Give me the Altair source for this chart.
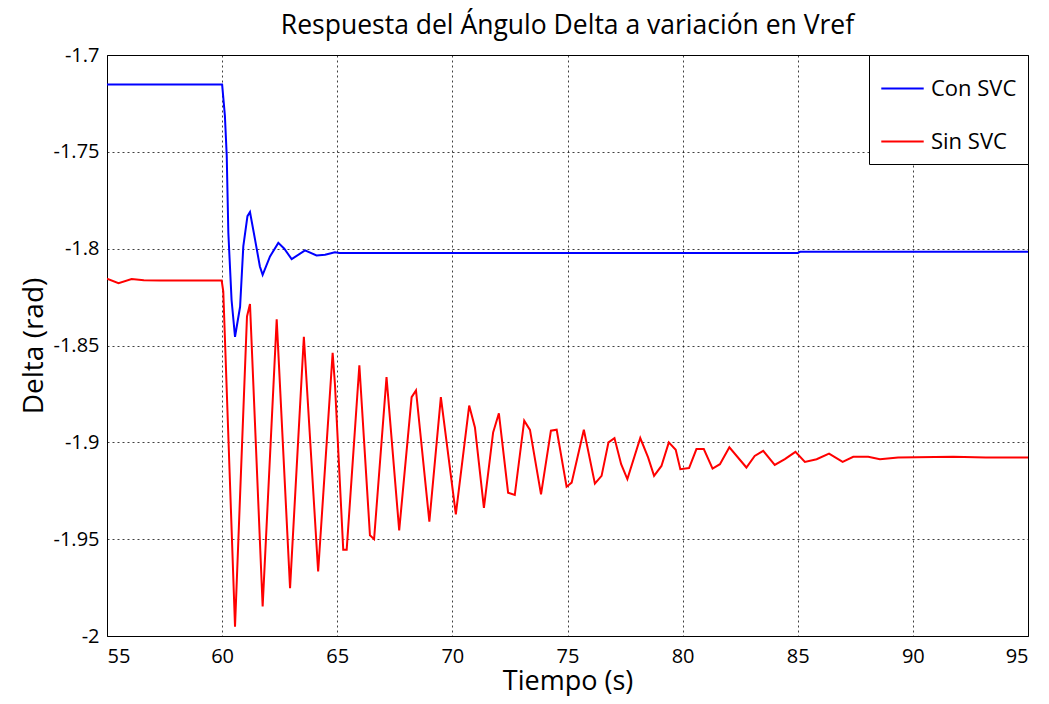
import altair as alt
import pandas as pd

# --- data ---
t_con = [55.0, 60.0, 60.12, 60.2, 60.27, 60.41, 60.56, 60.78, 60.92, 61.1, 61.21,
         61.43, 61.64, 61.76, 62.08, 62.44, 62.7, 63.02, 63.6, 64.1, 64.47, 64.9,
         65.1, 85.0, 85.1, 95.0]
y_con = [-1.7152, -1.7152, -1.7313, -1.752, -1.7918, -1.8265, -1.8455, -1.830,
         -1.7988, -1.7832, -1.7811, -1.7953, -1.8092, -1.8135, -1.804, -1.797,
         -1.800, -1.8054, -1.8009, -1.8035, -1.8031, -1.8019, -1.8022, -1.8022,
         -1.8016, -1.8016]

t_sin = [55.0, 55.5, 56.07, 56.6, 57.3, 59.98, 60.05, 60.56, 61.08, 61.21, 61.76,
         62.37, 62.95, 63.55, 64.17, 64.8, 64.9, 65.26, 65.41, 65.96, 66.42, 66.6,
         67.14, 67.69, 68.23, 68.42, 69.0, 69.5, 70.15, 70.73, 70.98, 71.37, 71.77,
         72.02, 72.42, 72.71, 73.12, 73.37, 73.85, 74.28, 74.53, 74.96, 75.18,
         75.71, 76.19, 76.48, 76.78, 77.04, 77.33, 77.6, 78.16, 78.5, 78.76, 79.08,
         79.4, 79.7, 79.9, 80.28, 80.6, 80.92, 81.3, 81.62, 82.03, 82.77, 83.13,
         83.5, 84.0, 84.44, 84.9, 85.31, 85.82, 86.36, 86.95, 87.41, 88.06, 88.57,
         89.36, 91.75, 93.17, 95.0]
y_sin = [-1.8155, -1.8178, -1.8157, -1.8163, -1.8165, -1.8165, -1.822, -1.9952,
         -1.835, -1.8286, -1.9848, -1.8365, -1.9753, -1.8455, -1.9667, -1.8538,
         -1.87, -1.9554, -1.9554, -1.8602, -1.948, -1.950, -1.8663, -1.9455,
         -1.8767, -1.8732, -1.941, -1.8767, -1.9372, -1.881, -1.8923, -1.9338,
         -1.8949, -1.885, -1.926, -1.9272, -1.8888, -1.8936, -1.9269, -1.894,
         -1.8935, -1.9229, -1.9208, -1.8935, -1.9213, -1.9173, -1.900, -1.8978,
         -1.9113, -1.919, -1.8978, -1.9078, -1.9173, -1.9122, -1.900, -1.9038,
         -1.9139, -1.9133, -1.9035, -1.9035, -1.9136, -1.9113, -1.9026, -1.9130,
         -1.907, -1.9044, -1.9117, -1.9087, -1.9049, -1.9101, -1.9087, -1.9058,
         -1.9101, -1.9075, -1.9075, -1.9087, -1.9078, -1.9075, -1.9078, -1.9078]

series_names = ["Con SVC", "Sin SVC"]
series_colors = ["#0000FF", "#FF0000"]
x_ticks = [55, 60, 65, 70, 75, 80, 85, 90, 95]
y_ticks = [-2, -1.95, -1.9, -1.85, -1.8, -1.75, -1.7]

rows = []
for i, (t, y) in enumerate(zip(t_con, y_con)):
    rows.append({"t": t, "y": y, "serie": series_names[0], "o": i})
for i, (t, y) in enumerate(zip(t_sin, y_sin)):
    rows.append({"t": t, "y": y, "serie": series_names[1], "o": i})
df = pd.DataFrame(rows)

FONT = "Open Sans"

chart = (
    alt.Chart(df)
    .mark_line(strokeWidth=2, clip=True)
    .encode(
        x=alt.X("t:Q",
                scale=alt.Scale(domain=[55, 95], nice=False, zero=False),
                axis=alt.Axis(values=x_ticks, title="Tiempo (s)", labelFontSize=20,
                              titleFontSize=27, labelPadding=10, titlePadding=2)),
        y=alt.Y("y:Q",
                scale=alt.Scale(domain=[-2, -1.7], nice=False, zero=False),
                axis=alt.Axis(values=y_ticks, title="Delta (rad)", labelFontSize=20,
                              titleFontSize=28, labelPadding=8, titlePadding=5,
                              labelExpr="toString(datum.value)")),
        color=alt.Color("serie:N",
                        scale=alt.Scale(domain=series_names, range=series_colors),
                        legend=alt.Legend(title=None, orient="top-right", offset=0,
                                          symbolType="stroke", symbolSize=1800,
                                          symbolStrokeWidth=2, labelFontSize=22,
                                          labelOffset=6, rowPadding=19, padding=11,
                                          fillColor="white", strokeColor="black",
                                          labelFont=FONT, labelColor="black")),
        order="o:Q",
    )
    .properties(
        width=921, height=581,
        autosize=alt.AutoSizeParams(type="none"),
        padding={"left": 99, "top": 47, "right": 13, "bottom": 60},
        title=alt.TitleParams("Respuesta del Ángulo Delta a variación en Vref",
                              fontSize=26.5, fontWeight="normal", font=FONT,
                              color="black", offset=6, anchor="middle"),
    )
    .configure_view(stroke="black", strokeWidth=1)
    .configure_axis(
        grid=True, gridColor="#000000", gridDash=[2, 3], gridOpacity=0.75,
        gridWidth=1, domain=False, ticks=False,
        labelFont=FONT, titleFont=FONT, labelColor="black", titleColor="black",
        titleFontWeight="normal",
    )
)

chart.save("out.html", embed_options={"renderer": "svg", "actions": False})
